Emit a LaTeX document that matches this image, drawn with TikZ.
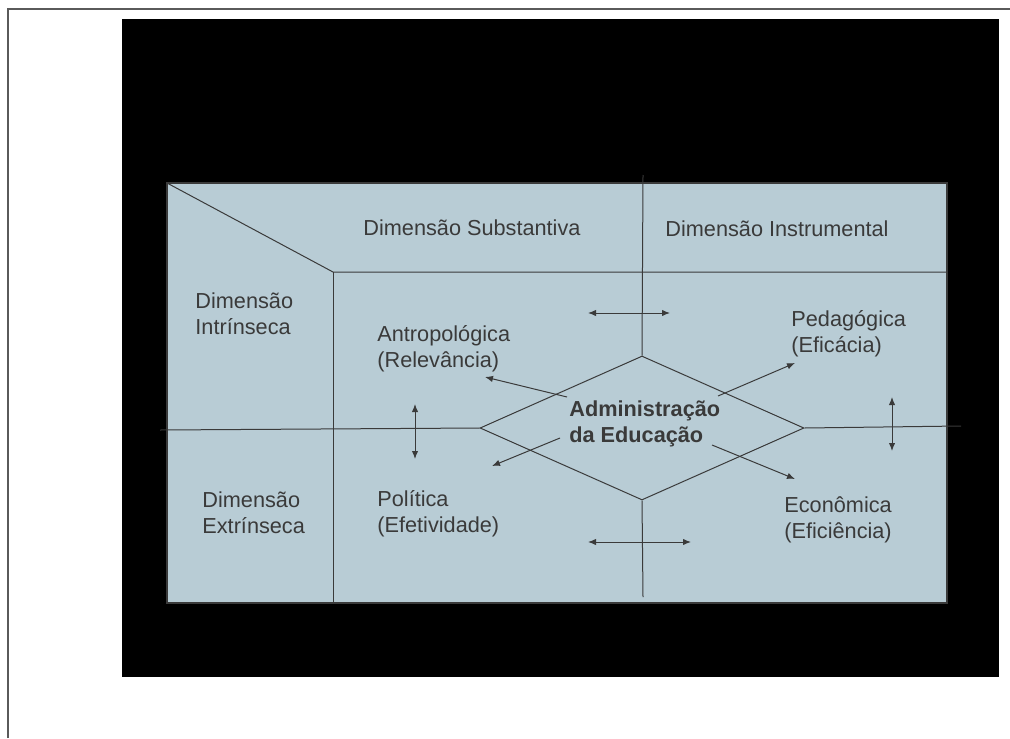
\documentclass[tikz,border=0pt]{standalone}
\usepackage{fontspec}
\setmainfont{Liberation Sans}
\usetikzlibrary{shapes.geometric,arrows.meta,positioning}
\definecolor{panel}{HTML}{B8CCD5}
\definecolor{ink}{HTML}{3A3A3A}
\definecolor{rim}{HTML}{5A5A5A}
\begin{document}
\begin{tikzpicture}[x=0.5pt, y=-0.5pt, >={Latex[length=4pt,width=3.2pt]},
  main/.style = {anchor=base west, inner sep=0pt, align=left, text=ink, font=\fontsize{10.85}{13}\selectfont},
  ln/.style = {draw=ink, line width=0.5pt}]
\useasboundingbox (0,0) rectangle (1010,738);
\draw[rim, line width=1pt] (8,738) -- (8,9) -- (1010,9);
\fill[black] (122,19) rectangle (999,677);
\filldraw[fill=panel, draw=ink, line width=0.6pt] (167,183) rectangle (947,603);
\node[diamond, draw=ink, line width=0.5pt, aspect=2.25, minimum width=162pt, minimum height=72pt, inner sep=0pt] (dia) at (642,428) {};
\coordinate (c1) at (167,183);
\coordinate (c2) at (333,272);
\coordinate (c3) at (947,272);
\coordinate (c4) at (333,603);
\coordinate (w) at (160,430);
\coordinate (e) at (961,426);
\coordinate (n) at (643,175);
\coordinate (s) at (643,597);
\draw[ln] (c1) -- (c2) -- (c3);
\draw[ln] (c2) -- (c4);
\draw[ln] (w) -- (dia.west);
\draw[ln] (dia.east) -- (e);
\draw[ln] (n) -- (dia.north);
\draw[ln] (dia.south) -- (s);
\node[main] (subst) at (363,235) {Dimensão Substantiva};
\node[main] (instr) at (665,236) {Dimensão Instrumental};
\node[main] (intr) at (195,334) {Dimensão\\Intrínseca};
\node[main] (antro) at (377,367) {Antropológica\\(Relevância)};
\node[main] (peda) at (791,352) {Pedagógica\\(Eficácia)};
\node[main, font=\fontsize{10.85}{13}\selectfont\bfseries] (adm) at (569,442) {Administração\\da Educação};
\node[main] (extr) at (202,533) {Dimensão\\Extrínseca};
\node[main] (poli) at (377,532) {Política\\(Efetividade)};
\node[main] (econ) at (784,538) {Econômica\\(Eficiência)};
\coordinate (a1) at (567,397);
\coordinate (a2) at (485,377);
\coordinate (p1) at (718,396);
\coordinate (p2) at (795,363);
\coordinate (o1) at (560,438);
\coordinate (o2) at (492,466);
\coordinate (e1) at (712,445);
\coordinate (e2) at (795,479);
\draw[ln, ->] (a1) -- (a2);
\draw[ln, ->] (p1) -- (p2);
\draw[ln, ->] (o1) -- (o2);
\draw[ln, ->] (e1) -- (e2);
\coordinate (h1) at (588,313);
\coordinate (h2) at (670,313);
\coordinate (h3) at (588,542);
\coordinate (h4) at (691,542);
\coordinate (v1) at (415,404);
\coordinate (v2) at (415,459);
\coordinate (v3) at (892,397);
\coordinate (v4) at (892,451);
\draw[ln, <->] (h1) -- (h2);
\draw[ln, <->] (h3) -- (h4);
\draw[ln, <->] (v1) -- (v2);
\draw[ln, <->] (v3) -- (v4);
\end{tikzpicture}
\end{document}
